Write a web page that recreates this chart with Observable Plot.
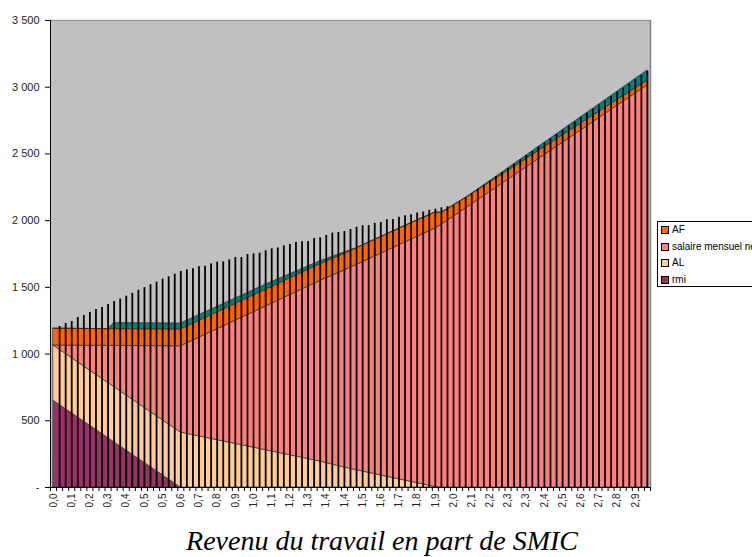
<!DOCTYPE html>
<html>
<head>
<meta charset="utf-8">
<script src="https://cdn.jsdelivr.net/npm/d3@7"></script>
<script src="https://cdn.jsdelivr.net/npm/@observablehq/plot@0.6"></script>
<style>
  html, body { margin: 0; padding: 0; background: #fff; overflow: hidden; width: 752px; height: 557px; }
  #wrap { position: relative; width: 752px; height: 557px; }
  #legend { position: absolute; left: 657px; top: 221px; width: 120px; height: 66px; border: 1px solid #000; background: #fff;
            font-family: "Liberation Sans", Arial, sans-serif; font-size: 10px; color: #000; box-sizing: border-box; }
  #legend .it { position: absolute; left: 3px; white-space: nowrap; line-height: 12px; }
  #legend .sw { display: inline-block; width: 6px; height: 6px; border: 1px solid #000; margin-right: 3px; vertical-align: -1px; }
  #caption { position: absolute; left: 0; top: 524px; width: 752px; text-align: center; padding-left: 12px; box-sizing: border-box;
             font-family: "Liberation Serif", "Times New Roman", serif; font-style: italic; font-size: 28px; line-height: 34px; color: #000; }
</style>
</head>
<body>
<div id="wrap">
  <div id="chart"></div>
  <div id="legend"></div>
  <div id="caption">Revenu du travail en part de SMIC</div>
</div>
<script>
// ---- data (category index k: SMIC fraction = k * 0.03) ----
const breakIdx = [0, 9, 10, 21, 35, 44, 48, 50, 58, 63, 64, 68, 72, 98];
const rmi      = [650, 371, 340, 0, 0, 0, 0, 0, 0, 0, 0, 0, 0, 0];
const AL       = [414, 413, 413, 412, 280, 195, 150, 130, 52, 4, 0, 0, 0, 0];
const salaire  = [0, 277, 308, 646, 1076, 1353, 1476, 1537, 1784, 1937, 1968, 2091, 2214, 3013];
const AF       = [126, 126, 126, 126, 126, 126, 126, 126, 124, 120, 90, 78, 72, 37];
const autre    = [0, 0, 45, 45, 38, 22, 10, 0, 0, 0, 0, 0, 10, 75];

const seriesNames  = ["rmi", "AL", "salaire mensuel net", "AF", "autre"];
const seriesColors = ["#993366", "#FFCC99", "#FF8080", "#FF6600", "#008080"];

// vertical black lines, categories k = 1..98
const lineTop = [1207, 1229, 1244, 1274, 1289, 1312, 1334, 1349, 1372, 1394,
  1412, 1434, 1455, 1478, 1498, 1519, 1539, 1561, 1579, 1599,
  1619, 1631, 1639, 1654, 1659, 1676, 1689, 1691, 1706, 1724,
  1724, 1746, 1751, 1756, 1774, 1789, 1796, 1811, 1821, 1836,
  1841, 1844, 1866, 1871, 1889, 1906, 1911, 1919, 1934, 1951,
  1961, 1964, 1981, 1986, 2006, 2009, 2026, 2036, 2045, 2058,
  2064, 2078, 2085, 2096, 2104, 2112, 2140, 2172, 2203, 2235,
  2266, 2298, 2330, 2361, 2393, 2424, 2456, 2488, 2519, 2551,
  2582, 2614, 2646, 2677, 2709, 2740, 2772, 2804, 2835, 2867,
  2898, 2930, 2962, 2993, 3025, 3056, 3088, 3120];

// x tick labels (every third category)
const xLabels = ["0,0","0,1","0,2","0,3","0,4","0,5","0,5","0,6","0,7","0,8","0,9","1,0",
  "1,1","1,2","1,3","1,4","1,4","1,5","1,6","1,7","1,8","1,9","2,0","2,1","2,2","2,3",
  "2,3","2,4","2,5","2,6","2,7","2,8","2,9"];
const yTicks  = [0, 500, 1000, 1500, 2000, 2500, 3000, 3500];
const yLabels = ["-", "500", "1 000", "1 500", "2 000", "2 500", "3 000", "3 500"];

// ---- build tables ----
const seriesVals = [rmi, AL, salaire, AF, autre];
const areaData = [];
seriesNames.forEach((name, s) => breakIdx.forEach((k, i) => areaData.push({k, value: seriesVals[s][i], series: name})));
const lineData = lineTop.map((v, i) => ({k: i + 1, v}));
const labelIdx = xLabels.map((_, i) => i * 3);
const bounds = d3.range(0, 100).map(i => i - 0.5);

const chart = Plot.plot({
  width: 752,
  height: 522,
  marginLeft: 50, marginRight: 102, marginTop: 20, marginBottom: 35,
  style: {fontFamily: "'Liberation Sans', Arial, sans-serif", color: "#222", background: "transparent"},
  x: {type: "linear", domain: [-0.5, 98.5], range: [50, 650]},
  y: {domain: [0, 3500], range: [487, 20]},
  color: {domain: seriesNames, range: seriesColors},
  marks: [
    Plot.frame({fill: "#C0C0C0", stroke: "none"}),
    Plot.areaY(areaData, {x: "k", y: "value", fill: "series", order: seriesNames,
      stroke: "#2a2a2a", strokeWidth: 0.8, strokeOpacity: 0.85}),
    Plot.ruleX(lineData, {x: "k", y1: 0, y2: "v", stroke: "#000", strokeWidth: 1.8}),
    Plot.ruleY([3500], {stroke: "#9a9a9a", strokeWidth: 1.5}),
    Plot.ruleX([98.5], {stroke: "#808080", strokeWidth: 1.5}),
    Plot.ruleX([-0.5], {stroke: "#000", strokeWidth: 1}),
    Plot.ruleY([0], {stroke: "#000", strokeWidth: 1}),
    Plot.axisY({ticks: yTicks, tickFormat: d => yLabels[yTicks.indexOf(d)], tickSize: 5, tickPadding: 6, fontSize: 11, stroke: "#000", label: null}),
    Plot.axisX({ticks: bounds, tickFormat: () => "", tickSize: 4, stroke: "#000", label: null}),
    Plot.axisX({ticks: labelIdx, tickFormat: d => xLabels[labelIdx.indexOf(d)], tickRotate: -90, tickSize: 0, tickPadding: 6, fontSize: 10, label: null})
  ]
});
document.getElementById("chart").appendChild(chart);

// legend (top to bottom as in the reference)
const legendItems = ["AF", "salaire mensuel net", "AL", "rmi"];
const leg = document.getElementById("legend");
legendItems.forEach((name, i) => {
  const d = document.createElement("div");
  d.className = "it";
  d.style.top = (2 + i * 16.5) + "px";
  const sw = document.createElement("span");
  sw.className = "sw";
  sw.style.background = seriesColors[seriesNames.indexOf(name)];
  d.appendChild(sw);
  d.appendChild(document.createTextNode(name));
  leg.appendChild(d);
});
</script>
</body>
</html>
